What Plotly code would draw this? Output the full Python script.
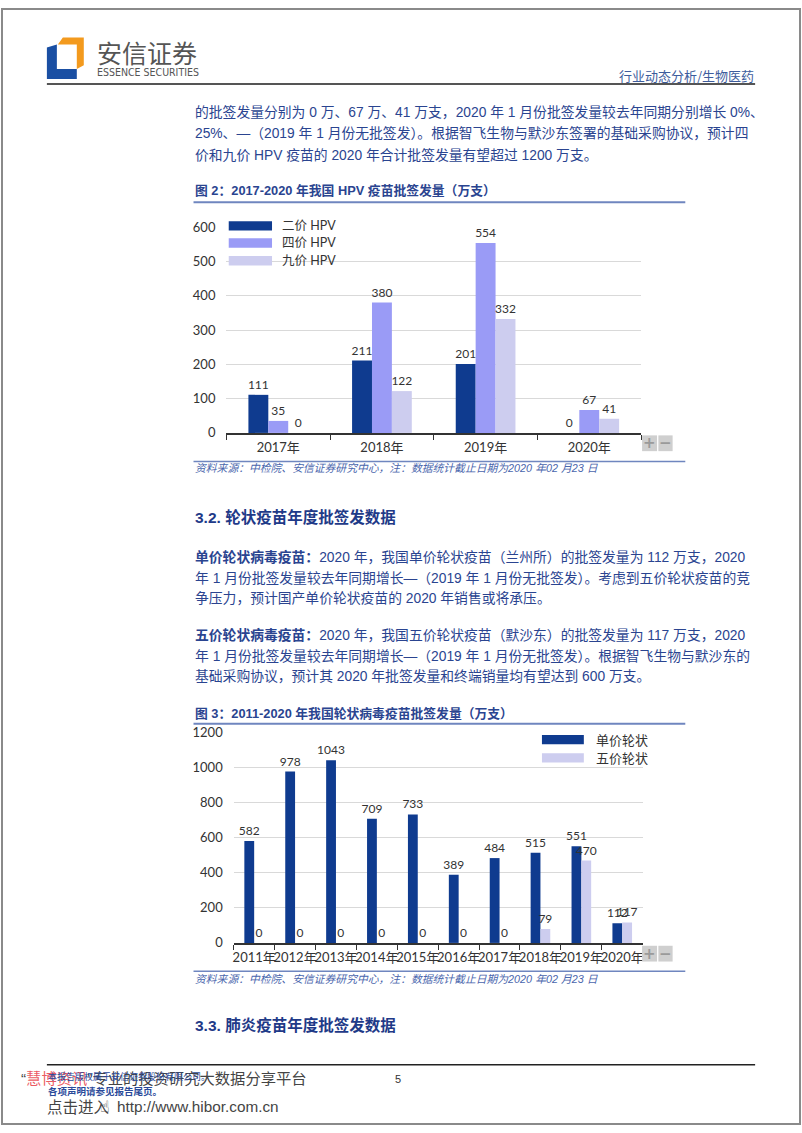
import plotly.graph_objects as go

W, H = 802, 1133

# ---------------- data ----------------
hpv_years = ["2017年", "2018年", "2019年", "2020年"]
hpv_names = ["二价 HPV", "四价 HPV", "九价 HPV"]
hpv_bivalent = [111, 211, 201, 0]
hpv_quadrivalent = [35, 380, 554, 67]
hpv_nonavalent = [0, 122, 332, 41]
hpv_y_ticks = [0, 100, 200, 300, 400, 500, 600]

rota_years = ["2011年", "2012年", "2013年", "2014年", "2015年",
              "2016年", "2017年", "2018年", "2019年", "2020年"]
rota_names = ["单价轮状", "五价轮状"]
rota_mono = [582, 978, 1043, 709, 733, 389, 484, 515, 551, 112]
rota_penta = [0, 0, 0, 0, 0, 0, 0, 79, 470, 117]
rota_y_ticks = [0, 200, 400, 600, 800, 1000, 1200]

# ---------------- style ----------------
DARK = "#0f3b8f"
MID = "#9a9bf6"
LIGHT = "#cdcdef"
TXT = "#2a4490"
LINEBLUE = "#6f86bf"
CJK = "Noto Sans CJK SC"
BODY = "Liberation Sans, Noto Sans CJK SC"
CHART = "Lato, Noto Sans CJK SC"


def X(p):
    return p / W


def Y(p):
    return 1 - p / H


fig = go.Figure()

# ---------------- chart 1 ----------------
c1_series = [hpv_bivalent, hpv_quadrivalent, hpv_nonavalent]
c1_colors = [DARK, MID, LIGHT]
c1_offsets = [-0.288, -0.096, 0.096]
for vals, col, off, nm in zip(c1_series, c1_colors, c1_offsets, hpv_names):
    fig.add_trace(go.Bar(
        x=hpv_years, y=vals, name=nm, width=0.192, offset=off,
        marker=dict(color=col, line=dict(width=0)),
        text=vals, textposition="outside", constraintext="none", cliponaxis=False,
        textfont=dict(family=CHART, size=12, color="#333333"),
        xaxis="x", yaxis="y", showlegend=False, hoverinfo="skip"))

# ---------------- chart 2 ----------------
c2_series = [rota_mono, rota_penta]
c2_colors = [DARK, LIGHT]
c2_offsets = [-0.24, 0.0]
for vals, col, off, nm in zip(c2_series, c2_colors, c2_offsets, rota_names):
    fig.add_trace(go.Bar(
        x=rota_years, y=vals, name=nm, width=0.24, offset=off,
        marker=dict(color=col, line=dict(width=0)),
        text=vals, textposition="outside", constraintext="none", cliponaxis=False,
        textfont=dict(family=CHART, size=12, color="#333333"),
        xaxis="x2", yaxis="y2", showlegend=False, hoverinfo="skip"))

axis_font = dict(family=CHART, size=13, color="#333333")

fig.update_layout(
    width=W, height=H, margin=dict(l=0, r=0, t=0, b=0),
    paper_bgcolor="white", plot_bgcolor="white",
    barmode="group", showlegend=False,
    xaxis=dict(domain=[X(226), X(641.7)], anchor="y", type="category",
               range=[-0.5, 3.5], showline=True, linecolor="#333333", linewidth=1.5,
               ticks="outside", tickson="boundaries", ticklen=5, tickcolor="#333333",
               tickwidth=1, tickfont=axis_font, tickangle=0, showgrid=False,
               ticklabelstandoff=2, fixedrange=True),
    yaxis=dict(domain=[Y(431), Y(222.3)], anchor="x", range=[0, 600],
               tickvals=hpv_y_ticks, showgrid=True, gridcolor="#d9d9d9", gridwidth=1,
               zeroline=False, showline=False, ticks="", tickfont=axis_font,
               ticklabelstandoff=10, fixedrange=True),
    xaxis2=dict(domain=[X(233.3), X(643.3)], anchor="y2", type="category",
                range=[-0.5, 9.5], showline=True, linecolor="#333333", linewidth=1.5,
                ticks="outside", tickson="boundaries", ticklen=5, tickcolor="#333333",
                tickwidth=1, tickfont=dict(family=CHART, size=13, color="#333333"),
                tickangle=0, showgrid=False, ticklabelstandoff=2, fixedrange=True),
    yaxis2=dict(domain=[Y(948.3), Y(735)], anchor="x2", range=[0, 1200],
                tickvals=rota_y_ticks, showgrid=True, gridcolor="#d9d9d9", gridwidth=1,
                zeroline=False, showline=False, ticks="", tickfont=axis_font,
                ticklabelstandoff=10, fixedrange=True),
)

shapes = []
annotations = []


def line(x0, y0, x1, y1, color, width):
    shapes.append(dict(type="line", xref="paper", yref="paper",
                       x0=X(x0), y0=Y(y0), x1=X(x1), y1=Y(y1),
                       line=dict(color=color, width=width)))


def rect(x0, y0, x1, y1, fill, lc=None, lw=0):
    shapes.append(dict(type="rect", xref="paper", yref="paper",
                       x0=X(x0), y0=Y(y0), x1=X(x1), y1=Y(y1),
                       fillcolor=fill, line=dict(color=lc or fill, width=lw)))


def path(points, fill):
    d = "M " + " L ".join(f"{X(a):.5f},{Y(b):.5f}" for a, b in points) + " Z"
    shapes.append(dict(type="path", xref="paper", yref="paper", path=d,
                       fillcolor=fill, line=dict(width=0)))


def text(x, y, s, size=14, color=TXT, family=BODY, anchor="left"):
    annotations.append(dict(x=X(x), y=Y(y), xref="paper", yref="paper", text=s,
                            showarrow=False, xanchor=anchor, yanchor="middle",
                            font=dict(family=family, size=size, color=color),
                            borderpad=0))


# page frame
rect(1, 1, 801, 1132, "rgba(0,0,0,0)", "#8a8a8a", 2)

# logo
path([(62, 30), (83, 30), (83, 58), (76, 62), (76, 37), (57, 37)], "#f39a1e")
path([(46, 40), (56, 37), (56, 62), (76, 62), (76, 72), (46, 72)], "#1a4fa3")
text(95, 45, "安信证券", size=25, color="#555555", family=CJK)
text(95, 65, "ESSENCE SECURITIES", size=10.5, color="#555555",
     family="Liberation Sans Narrow, DejaVu Sans Condensed, Liberation Sans")
text(756, 68, "行业动态分析/生物医药", size=13, color="#3d5c9c", family=CJK, anchor="right")
line(46, 77, 756, 77, "#555555", 2)

# paragraph before figure 2
text(193, 105, "的批签发量分别为 0 万、67 万、41 万支，2020 年 1 月份批签发量较去年同期分别增长 0%、", 13.8)
text(193, 127, "25%、—（2019 年 1 月份无批签发）。根据智飞生物与默沙东签署的基础采购协议，预计四", 13.8)
text(193, 149, "价和九价 HPV 疫苗的 2020 年合计批签发量有望超过 1200 万支。", 13.8)

# figure 2 title / source
text(193, 185, "<b>图 2：2017-2020 年我国 HPV 疫苗批签发量（万支）</b>", 12.8)
line(193, 197, 686, 197, LINEBLUE, 2)
line(193, 460, 686, 460, LINEBLUE, 1.5)
text(193, 467, "<i>资料来源：中检院、安信证券研究中心，注：数据统计截止日期为2020 年02 月23 日</i>",
     10.8, "#4a66ad")

# chart 1 legend
leg1_y = [221, 238.3, 256.3]
for yy, col, nm in zip(leg1_y, c1_colors, hpv_names):
    rect(228.3, yy - 4.8, 271.7, yy + 4.8, col)
    text(281, yy, nm, 12.5, "#333333", CHART)

# chart 2 legend
leg2_y = [742, 760.7]
for yy, col, nm in zip(leg2_y, c2_colors, rota_names):
    rect(542.3, yy - 4.7, 584.3, yy + 4.7, col)
    text(595, yy, nm, 13, "#333333", CHART)

# zoom buttons
for by in (441.5, 959.2):
    rect(642.7, by - 8, 657.7, by + 8, "#cfcfcf")
    rect(659, by - 8, 673.3, by + 8, "#cfcfcf")
    text(650.2, by, "<b>+</b>", 15, "#9a9a9a", "DejaVu Sans", "center")
    text(666.2, by, "<b>−</b>", 15, "#9a9a9a", "DejaVu Sans", "center")

# section 3.2
text(193, 516, "<b>3.2. 轮状疫苗年度批签发数据</b>", 15.5, "#1f3a88")
text(193, 557, "<b>单价轮状病毒疫苗：</b>2020 年，我国单价轮状疫苗（兰州所）的批签发量为 112 万支，2020", 13.8)
text(193, 578, "年 1 月份批签发量较去年同期增长—（2019 年 1 月份无批签发）。考虑到五价轮状疫苗的竞", 13.8)
text(193, 599, "争压力，预计国产单价轮状疫苗的 2020 年销售或将承压。", 13.8)
text(193, 636, "<b>五价轮状病毒疫苗：</b>2020 年，我国五价轮状疫苗（默沙东）的批签发量为 117 万支，2020", 13.8)
text(193, 657, "年 1 月份批签发量较去年同期增长—（2019 年 1 月份无批签发）。根据智飞生物与默沙东的", 13.8)
text(193, 678, "基础采购协议，预计其 2020 年批签发量和终端销量均有望达到 600 万支。", 13.8)

# figure 3 title / source
text(193, 716, "<b>图 3：2011-2020 年我国轮状病毒疫苗批签发量（万支）</b>", 12.8)
line(193, 726, 686, 726, LINEBLUE, 2)
line(193, 977, 686, 977, LINEBLUE, 1.5)
text(193, 985, "<i>资料来源：中检院、安信证券研究中心，注：数据统计截止日期为2020 年02 月23 日</i>",
     10.8, "#4a66ad")

# section 3.3
text(193, 1032, "<b>3.3. 肺炎疫苗年度批签发数据</b>", 15.5, "#1f3a88")

# footer
line(46, 1072, 756, 1072, "#222222", 1.5)
text(19, 1086, "“<span style='color:rgba(232,60,70,0.85)'>慧博资讯</span>”专业的投资研究大数据分享平台",
     15.3, "#444444", "Liberation Sans, Noto Sans CJK SC")
text(46, 1084, "本报告版权属于安信证券股份有限公司。", 9, "#2a4a9a", CJK)
text(46, 1099, "<b>各项声明请参见报告尾页。</b>", 9.5, "#2a4a9a", CJK)
text(398, 1086, "5", 11, "#333333", "Liberation Sans", "center")
text(45, 1114, "点击进入", 15.5, "#444444", CJK)
text(98, 1114, "☝", 16, "#444444", "DejaVu Sans")
text(115, 1114, "http://www.hibor.com.cn", 15.3, "#444444", "Liberation Sans")

fig.update_layout(shapes=shapes, annotations=annotations)
fig.write_html("out.html")
